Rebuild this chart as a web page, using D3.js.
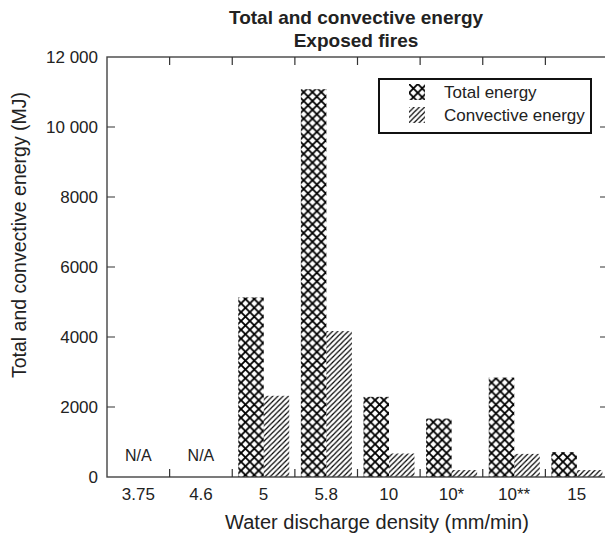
<!DOCTYPE html>
<html>
<head>
<meta charset="utf-8">
<script src="https://cdn.jsdelivr.net/npm/d3@7"></script>
<style>
  body { margin: 0; background: #fff; }
  svg text { font-family: "Liberation Sans", Arial, sans-serif; fill: #222; }
</style>
</head>
<body>
<div id="chart"></div>
<script>
// data
const categories = ["3.75", "4.6", "5", "5.8", "10", "10*", "10**", "15"];
const totalEnergy = [null, null, 5130, 11080, 2290, 1670, 2840, 710];
const convectiveEnergy = [null, null, 2320, 4170, 670, 200, 660, 200];
const yTicks = [0, 2000, 4000, 6000, 8000, 10000, 12000];

const W = 605, H = 541;
const margin = { top: 57, right: -3, bottom: 64, left: 107 };
const width = W - margin.left - margin.right;
const height = H - margin.top - margin.bottom;

const svg = d3.select("#chart").append("svg")
	.attr("width", W)
	.attr("height", H);

// fill patterns
const defs = svg.append("defs");
const cs = 8.8;
const cross = defs.append("pattern")
	.attr("id", "cross")
	.attr("patternUnits", "userSpaceOnUse")
	.attr("width", cs).attr("height", cs);
cross.append("path")
	.attr("d", `M0,0L${cs},${cs}M${cs},0L0,${cs}`)
	.attr("stroke", "#000").attr("stroke-width", 1.8);
cross.append("path")
	.attr("d", `M-1,1L1,-1M${cs-1},${cs+1}L${cs+1},${cs-1}M-1,${cs-1}L1,${cs+1}M${cs-1},-1L${cs+1},1`)
	.attr("stroke", "#000").attr("stroke-width", 1.8);

const hs = 5.2;
const hatch = defs.append("pattern")
	.attr("id", "hatch")
	.attr("patternUnits", "userSpaceOnUse")
	.attr("width", hs).attr("height", hs);
hatch.append("path")
	.attr("d", `M0,${hs}L${hs},0M-1,1L1,-1M${hs-1},${hs+1}L${hs+1},${hs-1}`)
	.attr("stroke", "#000").attr("stroke-width", 1.2);

const g = svg.append("g").attr("transform", `translate(${margin.left},${margin.top})`);

const x = d3.scaleBand().domain(categories).range([0, width]).padding(0);
const xSub = d3.scaleBand().domain(["total", "conv"]).range([6, 57]).padding(0);
const y = d3.scaleLinear().domain([0, 12000]).range([height, 0]);

const bars = categories.map((c, i) => ({ c, total: totalEnergy[i], conv: convectiveEnergy[i] }));

const grp = g.selectAll(".cat").data(bars).join("g")
	.attr("class", "cat")
	.attr("transform", d => `translate(${x(d.c)},0)`);

grp.filter(d => d.total != null).append("rect")
	.attr("x", xSub("total"))
	.attr("width", xSub.bandwidth())
	.attr("y", d => y(d.total))
	.attr("height", d => y(0) - y(d.total))
	.attr("fill", "url(#cross)");

grp.filter(d => d.conv != null).append("rect")
	.attr("x", xSub("conv"))
	.attr("width", xSub.bandwidth())
	.attr("y", d => y(d.conv))
	.attr("height", d => y(0) - y(d.conv))
	.attr("fill", "url(#hatch)");

grp.filter(d => d.total == null).append("text")
	.attr("x", x.bandwidth() / 2)
	.attr("y", y(0) - 16)
	.attr("text-anchor", "middle")
	.style("font-size", "16px")
	.text("N/A");

// axes
const fmt = v => v >= 10000 ? d3.format(",")(v).replace(",", " ") : String(v);
const boundaries = categories.map(c => x(c)).slice(1);

const xAxis = d3.axisBottom(x).tickSize(0).tickPadding(11);
g.append("g").attr("transform", `translate(0,${height})`).call(xAxis)
	.call(a => a.select(".domain").remove())
	.selectAll("text").style("font-size", "17px").attr("fill", "#222");

const yAxis = d3.axisLeft(y).tickValues(yTicks).tickFormat(fmt).tickSize(0).tickPadding(9);
g.append("g").call(yAxis)
	.call(a => a.select(".domain").remove())
	.selectAll("text").style("font-size", "17px").attr("fill", "#222");

// frame and inward ticks
const tl = 8;
g.append("rect")
	.attr("width", width).attr("height", height)
	.attr("fill", "none").attr("stroke", "#444").attr("stroke-width", 1.4);
g.selectAll(".tb").data(boundaries).join("path")
	.attr("d", b => `M${b},${height}v${-tl}M${b},0v${tl}`)
	.attr("stroke", "#333").attr("stroke-width", 1.2);
g.selectAll(".ty").data(yTicks.slice(1, -1)).join("path")
	.attr("d", v => `M0,${y(v)}h${tl}M${width},${y(v)}h${-tl}`)
	.attr("stroke", "#333").attr("stroke-width", 1.2);

// titles
svg.append("text").attr("x", 356).attr("y", 24)
	.attr("text-anchor", "middle").style("font-size", "19px").style("font-weight", "bold")
	.text("Total and convective energy");
svg.append("text").attr("x", 356).attr("y", 47)
	.attr("text-anchor", "middle").style("font-size", "19px").style("font-weight", "bold")
	.text("Exposed fires");
svg.append("text").attr("x", 377).attr("y", 529)
	.attr("text-anchor", "middle").style("font-size", "20px")
	.text("Water discharge density (mm/min)");
svg.append("text")
	.attr("transform", "translate(26,235) rotate(-90)")
	.attr("text-anchor", "middle").style("font-size", "19.5px")
	.text("Total and convective energy (MJ)");

// legend
const legend = svg.append("g").attr("transform", "translate(379,79)");
legend.append("rect").attr("width", 212).attr("height", 54)
	.attr("fill", "#fff").attr("stroke", "#111").attr("stroke-width", 2);
const items = [
	{ label: "Total energy", fill: "url(#cross)" },
	{ label: "Convective energy", fill: "url(#hatch)" }
];
const li = legend.selectAll(".li").data(items).join("g")
	.attr("transform", (d, i) => `translate(30,${5 + i * 23})`);
li.append("rect").attr("width", 16).attr("height", 16).attr("fill", d => d.fill);
li.append("text").attr("x", 35).attr("y", 14).style("font-size", "17px").text(d => d.label);
</script>
</body>
</html>
